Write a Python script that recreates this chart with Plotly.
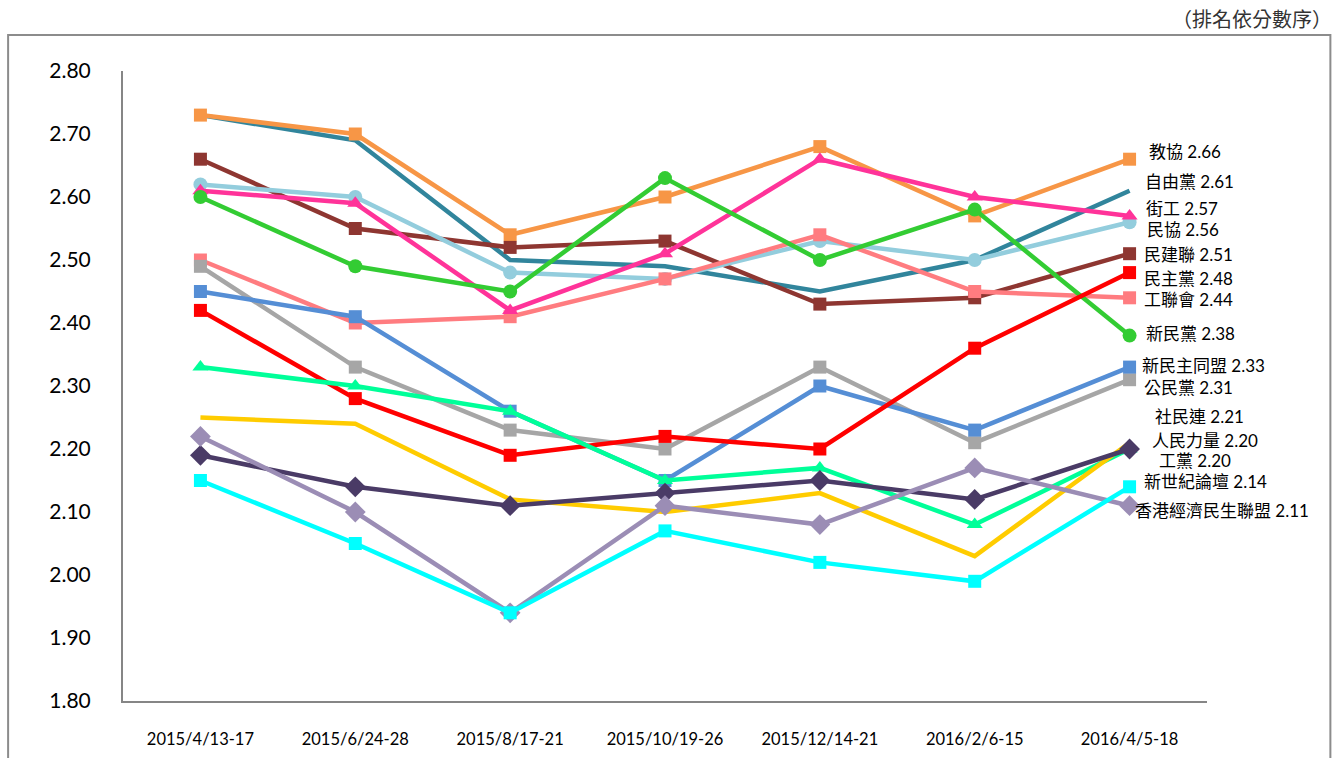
import plotly.graph_objects as go

categories = ["2015/4/13-17", "2015/6/24-28", "2015/8/17-21", "2015/10/19-26",
              "2015/12/14-21", "2016/2/6-15", "2016/4/5-18"]

# series values (drawn bottom -> top)
s_ziyou = [2.73, 2.69, 2.50, 2.49, 2.45, 2.50, 2.61]      # 自由黨
s_jiaoxie = [2.73, 2.70, 2.54, 2.60, 2.68, 2.57, 2.66]    # 教協
s_minjianlian = [2.66, 2.55, 2.52, 2.53, 2.43, 2.44, 2.51]  # 民建聯
s_minxie = [2.62, 2.60, 2.48, 2.47, 2.53, 2.50, 2.56]     # 民協
s_gonglianhui = [2.50, 2.40, 2.41, 2.47, 2.54, 2.45, 2.44]  # 工聯會
s_jiegong = [2.61, 2.59, 2.42, 2.51, 2.66, 2.60, 2.57]    # 街工
s_xinmin = [2.60, 2.49, 2.45, 2.63, 2.50, 2.58, 2.38]     # 新民黨
s_gongmin = [2.49, 2.33, 2.23, 2.20, 2.33, 2.21, 2.31]    # 公民黨
s_xinminzhu = [2.45, 2.41, 2.26, 2.15, 2.30, 2.23, 2.33]  # 新民主同盟
s_minzhu = [2.42, 2.28, 2.19, 2.22, 2.20, 2.36, 2.48]     # 民主黨
s_gongdang = [2.33, 2.30, 2.26, 2.15, 2.17, 2.08, 2.20]   # 工黨
s_shemin = [2.25, 2.24, 2.12, 2.10, 2.13, 2.03, 2.21]     # 社民連
s_renmin = [2.19, 2.14, 2.11, 2.13, 2.15, 2.12, 2.20]     # 人民力量
s_jingmin = [2.22, 2.10, 1.94, 2.11, 2.08, 2.17, 2.11]    # 香港經濟民生聯盟
s_xinshiji = [2.15, 2.05, 1.94, 2.07, 2.02, 1.99, 2.14]   # 新世紀論壇

names = ["自由黨", "教協", "民建聯", "民協", "工聯會", "街工", "新民黨", "公民黨",
         "新民主同盟", "民主黨", "工黨", "社民連", "人民力量", "香港經濟民生聯盟", "新世紀論壇"]
series = [s_ziyou, s_jiaoxie, s_minjianlian, s_minxie, s_gonglianhui, s_jiegong, s_xinmin,
          s_gongmin, s_xinminzhu, s_minzhu, s_gongdang, s_shemin, s_renmin, s_jingmin, s_xinshiji]

# styles
colors = ["#31859C", "#F79646", "#8E3631", "#93CDDD", "#FF7C80", "#FF3399", "#33CC33",
          "#A6A6A6", "#558ED5", "#FF0000", "#00FF99", "#FFCC00", "#4A3B66", "#9B8DB5", "#00FFFF"]
symbols = [None, "square", "square", "circle", "square", "triangle-up", "circle",
           "square", "square", "square", "triangle-up", None, "diamond", "diamond", "square"]
msizes = {"square": 13, "circle": 14, "triangle-up": 14, "diamond": 16}

# right-side label placement (label y in data units, x shift in px)
label_y = [2.624, 2.673, 2.508, 2.548, 2.437, 2.581, 2.384, 2.297, 2.332, 2.471,
           2.181, 2.251, 2.214, 2.103, 2.148]
label_dx = [13, 17, 12, 15, 12, 14, 14, 12, 10, 12, 27, 23, 20, 3, 12]

FONT = "Lato, 'Noto Sans CJK TC', sans-serif"

fig = go.Figure()
for name, vals, col, sym in zip(names, series, colors, symbols):
    if sym is None:
        fig.add_trace(go.Scatter(x=categories, y=vals, mode="lines", name=name,
                                 line=dict(color=col, width=4.5)))
    else:
        fig.add_trace(go.Scatter(x=categories, y=vals, mode="lines+markers", name=name,
                                 line=dict(color=col, width=4.5),
                                 marker=dict(symbol=sym, size=msizes[sym], color=col)))

for name, vals, ly, dx in zip(names, series, label_y, label_dx):
    fig.add_annotation(x=categories[-1], y=ly, xref="x", yref="y",
                       text=f"{name} {vals[-1]:.2f}", showarrow=False,
                       xanchor="left", yanchor="middle", xshift=dx,
                       font=dict(family=FONT, size=17, color="#000000"))

W, H = 1334, 758
L, R, T, B = 122.5, 1207.5, 71, 701


def px(x):
    return (x - L) / (R - L)


def py(y):
    return (B - y) / (B - T)


# outer frame
fig.add_shape(type="rect", xref="paper", yref="paper",
              x0=px(7.5), x1=px(1331), y0=py(800), y1=py(35),
              line=dict(color="#8C8C8C", width=2), fillcolor="rgba(0,0,0,0)", layer="below")

fig.add_annotation(xref="paper", yref="paper", x=px(1335), y=py(19), xanchor="right",
                   yanchor="middle", text="（排名依分數序）", showarrow=False,
                   font=dict(family=FONT, size=20, color="#333333"))

fig.update_layout(
    width=W, height=H,
    margin=dict(l=L, r=W - R, t=T, b=H - B, pad=0),
    paper_bgcolor="white", plot_bgcolor="white",
    showlegend=False,
    font=dict(family=FONT, color="#000000"),
    xaxis=dict(type="category", range=[-0.5, 6.5], showgrid=False, zeroline=False,
               showline=True, linecolor="#868686", linewidth=2, ticks="", automargin=False,
               tickfont=dict(size=16.5, color="#000000"), ticklabelstandoff=22),
    yaxis=dict(range=[1.8, 2.8], dtick=0.1, tick0=1.8, tickformat=".2f", showgrid=False,
               zeroline=False, showline=True, linecolor="#868686", linewidth=2, ticks="",
               automargin=False,
               tickfont=dict(size=21, color="#000000"), ticklabelstandoff=26),
)

fig.write_html("out.html", config={"displayModeBar": False},
               post_script="document.body.style.margin='0';document.body.style.overflow='hidden';")
